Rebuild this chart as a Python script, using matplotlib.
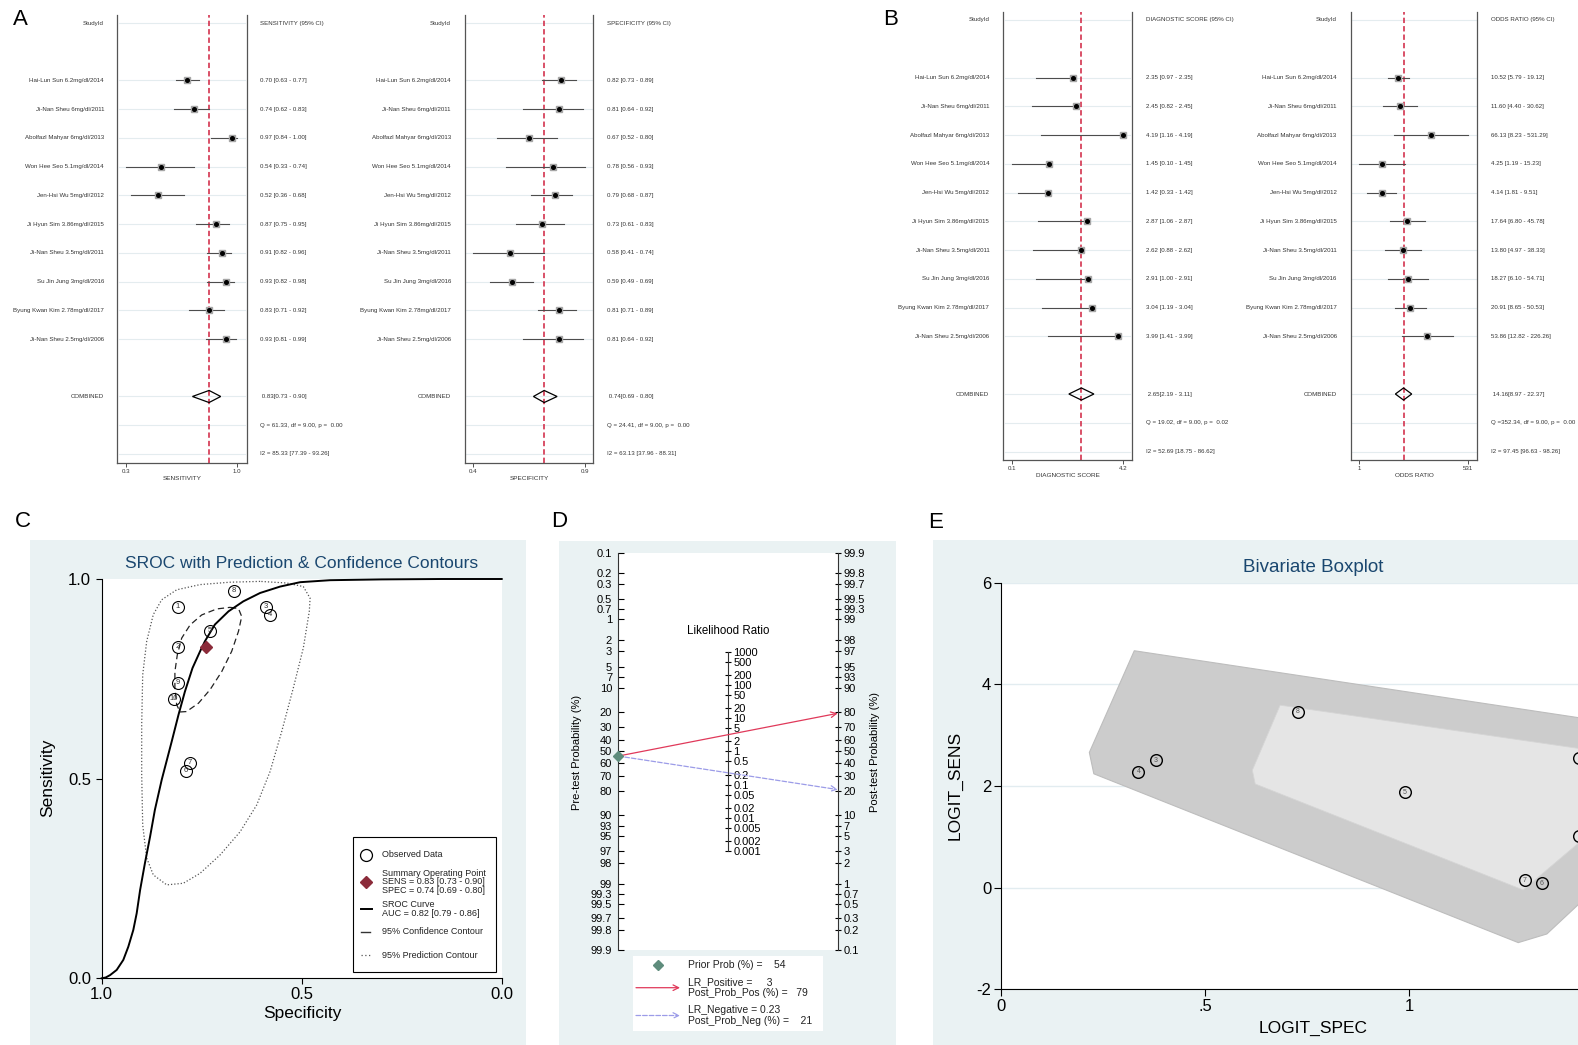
import numpy as np
import matplotlib
matplotlib.use("Agg")
import matplotlib.pyplot as plt
from matplotlib.patches import Rectangle, Polygon
from matplotlib.transforms import blended_transform_factory

plt.rcParams['font.family'] = ['Liberation Sans', 'DejaVu Sans']
plt.rcParams['axes.unicode_minus'] = False

W, H = 1578, 1045

# ---------------- study level data (forest plots) ----------------
studies = ['Hai-Lun Sun 6.2mg/dl/2014', 'Ji-Nan Sheu 6mg/dl/2011', 'Abolfazl Mahyar 6mg/dl/2013',
           'Won Hee Seo 5.1mg/dl/2014', 'Jen-Hsi Wu 5mg/dl/2012', 'Ji Hyun Sim 3.86mg/dl/2015',
           'Ji-Nan Sheu 3.5mg/dl/2011', 'Su Jin Jung 3mg/dl/2016', 'Byung Kwan Kim 2.78mg/dl/2017',
           'Ji-Nan Sheu 2.5mg/dl/2006']

sens = [0.70, 0.74, 0.97, 0.54, 0.52, 0.87, 0.91, 0.93, 0.83, 0.93]
sens_lo = [0.63, 0.62, 0.84, 0.33, 0.36, 0.75, 0.82, 0.82, 0.71, 0.81]
sens_hi = [0.77, 0.83, 1.00, 0.74, 0.68, 0.95, 0.96, 0.98, 0.92, 0.99]
sens_comb = [0.83, 0.73, 0.90]
sens_het = [61.33, 9.00, 0.00, 85.33, 77.39, 93.26]

spec = [0.82, 0.81, 0.67, 0.78, 0.79, 0.73, 0.58, 0.59, 0.81, 0.81]
spec_lo = [0.73, 0.64, 0.52, 0.56, 0.68, 0.61, 0.41, 0.49, 0.71, 0.64]
spec_hi = [0.89, 0.92, 0.80, 0.93, 0.87, 0.83, 0.74, 0.69, 0.89, 0.92]
spec_comb = [0.74, 0.69, 0.80]
spec_het = [24.41, 9.00, 0.00, 63.13, 37.96, 88.31]

dscore = [2.35, 2.45, 4.19, 1.45, 1.42, 2.87, 2.62, 2.91, 3.04, 3.99]
dscore_lo = [0.97, 0.82, 1.16, 0.10, 0.33, 1.06, 0.88, 1.00, 1.19, 1.41]
dscore_hi = [2.35, 2.45, 4.19, 1.45, 1.42, 2.87, 2.62, 2.91, 3.04, 3.99]
dscore_comb = [2.65, 2.19, 3.11]
dscore_het = [19.02, 9.00, 0.02, 52.69, 18.75, 86.62]

odds = [10.52, 11.60, 66.13, 4.25, 4.14, 17.64, 13.80, 18.27, 20.91, 53.86]
odds_lo = [5.79, 4.40, 8.23, 1.19, 1.81, 6.80, 4.97, 6.10, 8.65, 12.82]
odds_hi = [19.12, 30.62, 531.29, 15.23, 9.51, 45.78, 38.33, 54.71, 50.53, 226.26]
odds_comb = [14.16, 8.97, 22.37]
odds_het = [352.34, 9.00, 0.00, 97.45, 96.63, 98.26]

# ---------------- SROC (panel C) ----------------
auc = [0.82, 0.79, 0.86]
curve_spec = [1.0, 0.990, 0.979, 0.9625, 0.946, 0.9335, 0.921, 0.9125, 0.904, 0.892, 0.879, 0.867,
              0.850, 0.825, 0.808, 0.792, 0.773, 0.754, 0.742, 0.717, 0.683, 0.646, 0.604, 0.554,
              0.504, 0.429, 0.30, 0.15, 0.0]
curve_sens = [0.0, 0.002, 0.008, 0.021, 0.046, 0.079, 0.121, 0.163, 0.221, 0.288, 0.355, 0.422,
              0.497, 0.593, 0.660, 0.718, 0.777, 0.819, 0.844, 0.886, 0.919, 0.944, 0.965, 0.981,
              0.992, 0.997, 0.999, 1.0, 1.0]
conf_spec = [0.679, 0.658, 0.650, 0.658, 0.675, 0.700, 0.729, 0.758, 0.788, 0.804, 0.8125, 0.817,
             0.817, 0.811, 0.800, 0.779, 0.750, 0.7125, 0.679]
conf_sens = [0.929, 0.926, 0.906, 0.869, 0.819, 0.768, 0.723, 0.689, 0.668, 0.667, 0.685, 0.727,
             0.768, 0.810, 0.852, 0.885, 0.910, 0.925, 0.929]
pred_spec = [0.604, 0.679, 0.754, 0.8125, 0.850, 0.871, 0.8875, 0.8975, 0.900, 0.900, 0.8975, 0.8875,
             0.871, 0.8375, 0.796, 0.754, 0.704, 0.654, 0.6125, 0.579, 0.550, 0.521, 0.496, 0.481,
             0.479, 0.496, 0.5375, 0.604]
pred_sens = [0.994, 0.992, 0.986, 0.973, 0.948, 0.911, 0.844, 0.760, 0.635, 0.510, 0.384, 0.301,
             0.259, 0.234, 0.238, 0.263, 0.309, 0.367, 0.434, 0.518, 0.618, 0.727, 0.827, 0.919,
             0.952, 0.981, 0.990, 0.994]

# ---------------- Fagan nomogram (panel D) ----------------
prior_prob = 54
lr_pos, post_pos = 3, 79
lr_neg, post_neg = 0.23, 21
prob_ticks = [0.1, 0.2, 0.3, 0.5, 0.7, 1, 2, 3, 5, 7, 10, 20, 30, 40, 50, 60, 70, 80, 90, 93, 95,
              97, 98, 99, 99.3, 99.5, 99.7, 99.8, 99.9]
lr_ticks = [1000, 500, 200, 100, 50, 20, 10, 5, 2, 1, 0.5, 0.2, 0.1, 0.05, 0.02, 0.01, 0.005, 0.002, 0.001]

# ---------------- bivariate boxplot (panel E) ----------------
box_x = [0.337, 0.380, 0.727, 0.990, 1.283, 1.324, 1.415, 1.415]
box_y = [2.28, 2.51, 3.46, 1.88, 0.15, 0.09, 2.56, 1.02]
box_lab = ['4', '3', '8', '5', '7', '6', '', '']   # last two sit on the cut edge
outer_x = [0.327, 0.217, 0.228, 1.267, 1.337, 1.55, 1.55]
outer_y = [4.66, 2.66, 2.24, -1.08, -0.91, 0.69, 3.18]
inner_x = [0.684, 0.616, 0.623, 1.279, 1.50, 1.50]
inner_y = [3.59, 2.31, 2.04, -0.045, 1.46, 2.64]

BG = '#EAF2F3'
NAVY = '#1A476F'

fig = plt.figure(figsize=(W / 100, H / 100), dpi=100)


def px_axes(x0, y0, x1, y1, **kw):
    return fig.add_axes([x0 / W, 1 - y1 / H, (x1 - x0) / W, (y1 - y0) / H], **kw)


bg = px_axes(0, 0, W, H, zorder=0)
bg.set_xlim(0, W)
bg.set_ylim(H, 0)
bg.axis('off')
for x0, y0, x1, y1 in [(29.7, 540, 525.5, 1045), (559, 541, 896, 1045), (933.4, 540, 1578, 1045)]:
    bg.add_patch(Rectangle((x0, y0), x1 - x0, y1 - y0, color=BG, lw=0))


def forest(box, row0, pitch, label_x, text_x, header, xlab, est, lo, hi, comb, het, xlim,
           log=False, fmt='{:.1f}'):
    x0, y0, x1, y1 = box
    ax = px_axes(*box, zorder=2)
    n = len(est)
    rows = np.arange(n) + 2
    r_comb, r_q, r_i2 = n + 3, n + 4, n + 5
    ax.set_ylim(r_i2 + (y1 - row0 - r_i2 * pitch) / pitch, -(row0 - y0) / pitch)
    if log:
        ax.set_xscale('log')
    ax.set_xlim(*xlim)
    for r in [0, *rows, r_comb, r_q, r_i2]:
        ax.axhline(r, xmin=0.01, xmax=0.99, color='#E4ECEF', lw=0.8, zorder=0)
    ax.axvline(comb[0], color='#D0213F', lw=1.1, ls=(0, (3.5, 2)), zorder=1)
    for r, e, l, h in zip(rows, est, lo, hi):
        ax.plot([l, h], [r, r], color='#4d4d4d', lw=0.8, zorder=2)
        ax.plot(e, r, 's', ms=5, color='#a6a6a6', zorder=3)
        ax.plot(e, r, 'o', ms=2.6, color='black', zorder=4)
    ce, cl, ch = comb
    ax.add_patch(Polygon([(cl, r_comb), (ce, r_comb - 0.21), (ch, r_comb), (ce, r_comb + 0.21)],
                         closed=True, fill=False, ec='black', lw=0.9, zorder=4))
    tr = blended_transform_factory(ax.transAxes, ax.transData)
    lx = (label_x - x0) / (x1 - x0)
    tx = (text_x - x0) / (x1 - x0)
    kw = dict(transform=tr, fontsize=4.4, va='center', color='#333333', clip_on=False)
    ax.text(lx, 0, 'StudyId', ha='right', **kw)
    ax.text(tx, 0, header, ha='left', **kw)
    for r, s, e, l, h in zip(rows, studies, est, lo, hi):
        ax.text(lx, r, s, ha='right', **kw)
        ax.text(tx, r, f'{e:.2f} [{l:.2f} - {h:.2f}]', ha='left', **kw)
    ax.text(lx, r_comb, 'COMBINED', ha='right', **kw)
    ax.text(tx, r_comb, f' {ce:.2f}[{cl:.2f} - {ch:.2f}]', ha='left', **kw)
    q, df, p, i2, i2l, i2h = het
    ax.text(tx, r_q, f'Q ={q:6.2f}, df = {df:.2f}, p = {p:5.2f}', ha='left', **kw)
    ax.text(tx, r_i2, f'I2 = {i2:.2f} [{i2l:.2f} - {i2h:.2f}]', ha='left', **kw)
    ticks = [min(lo), max(hi)]
    ax.set_xticks(ticks)
    ax.set_xticklabels([fmt.format(t) for t in ticks])
    ax.minorticks_off()
    ax.set_yticks([])
    ax.tick_params(axis='x', length=3, width=0.6, labelsize=4.4, pad=1.5, colors='#333333')
    ax.set_xlabel(xlab, fontsize=4.6, labelpad=1.5, color='#333333')
    ax.spines['top'].set_visible(False)
    for s in ['left', 'right', 'bottom']:
        ax.spines[s].set_color('#555555')
        ax.spines[s].set_linewidth(0.9)
    return ax


forest((117.3, 15, 246.7, 462.7), 23, 28.73, 104, 260, 'SENSITIVITY (95% CI)', 'SENSITIVITY',
       sens, sens_lo, sens_hi, sens_comb, sens_het, (0.2776, 1.0566))
forest((464.7, 15, 593.3, 462.7), 23, 28.73, 451, 607, 'SPECIFICITY (95% CI)', 'SPECIFICITY',
       spec, spec_lo, spec_hi, spec_comb, spec_het, (0.370, 0.9686))
forest((1003.3, 11.7, 1131.7, 460), 20, 28.77, 989.3, 1146, 'DIAGNOSTIC SCORE (95% CI)',
       'DIAGNOSTIC SCORE', dscore, dscore_lo, dscore_hi, dscore_comb, dscore_het, (-0.2197, 4.499))
forest((1350.7, 11.7, 1477.3, 460), 20, 28.77, 1336.7, 1491, 'ODDS RATIO (95% CI)', 'ODDS RATIO',
       odds, odds_lo, odds_hi, odds_comb, odds_het, (0.736, 879), log=True, fmt='{:.0f}')

# ---------------- panel C: SROC ----------------
axC = px_axes(101.7, 579, 501.7, 978.3, zorder=2)
axC.set_xlim(1, 0)
axC.set_ylim(0, 1)
axC.plot(pred_spec, pred_sens, color='#555555', lw=0.9, ls=(0, (1, 1.6)))
axC.plot(conf_spec, conf_sens, color='#222222', lw=0.9, ls=(0, (5, 3)))
axC.plot(curve_spec, curve_sens, color='black', lw=1.4, clip_on=False, solid_joinstyle='round')
n = len(sens)
axC.plot(spec, sens, 'o', ms=8.6, mfc='none', mec='black', mew=0.8)
for i, (x, y) in enumerate(zip(spec, sens)):
    axC.text(x, y, str(n - i), fontsize=5.5, ha='center', va='center', color='#333333')
axC.plot(spec_comb[0], sens_comb[0], 'D', ms=6.5, color='#8B2B3A', zorder=5)
axC.set_xticks([1, 0.5, 0])
axC.set_xticklabels(['1.0', '0.5', '0.0'])
axC.set_yticks([0, 0.5, 1])
axC.set_yticklabels(['0.0', '0.5', '1.0'])
axC.tick_params(length=4.6, width=0.8, labelsize=12)
axC.tick_params(axis='x', pad=2)
axC.tick_params(axis='y', pad=3)
for s in ['top', 'right']:
    axC.spines[s].set_visible(False)

# ---------------- panel D: Fagan nomogram ----------------
def logit(p):
    p = np.asarray(p, dtype=float)
    return np.log(p / (1 - p))


lim = float(logit(0.999))
axD = px_axes(618.3, 552.8, 837.7, 950.1, zorder=2)
axD.set_xlim(0, 1)
axD.set_ylim(lim, -lim)
axD.set_xticks([])
tick_txt = ['{:g}'.format(t) for t in prob_ticks]
axD.set_yticks(logit(np.array(prob_ticks) / 100))
axD.set_yticklabels(tick_txt)
axD.tick_params(axis='y', direction='in', length=4, width=0.8, pad=4.5, labelsize=8)
for s in ['top', 'right', 'bottom']:
    axD.spines[s].set_visible(False)

axR = axD.twinx()
axR.set_ylim(lim, -lim)
axR.set_yticks(-logit(np.array(prob_ticks) / 100))
axR.set_yticklabels(tick_txt)
axR.tick_params(axis='y', direction='inout', length=5, width=0.8, pad=1.5, labelsize=8)
for s in ['top', 'left', 'bottom']:
    axR.spines[s].set_visible(False)

axM = axD.twinx()
axM.set_ylim(lim, -lim)
lr_u = -np.log(np.array(lr_ticks, dtype=float)) / 2
axM.spines['right'].set_position(('axes', 0.5))
axM.spines['right'].set_bounds(lr_u.min(), lr_u.max())
axM.set_yticks(lr_u)
axM.set_yticklabels(['{:g}'.format(t) for t in lr_ticks])
axM.tick_params(axis='y', direction='inout', length=5, width=0.8, pad=1.5, labelsize=8)
for s in ['top', 'left', 'bottom']:
    axM.spines[s].set_visible(False)
for a in (axD, axR, axM):
    for s in a.spines.values():
        s.set_color('#333333')

uL = float(logit(prior_prob / 100))
axM.annotate('', xy=(1, -float(logit(post_pos / 100))), xytext=(0, uL),
             arrowprops=dict(arrowstyle='->', color='#E0395A', lw=0.9, shrinkA=0, shrinkB=0))
axM.annotate('', xy=(1, -float(logit(post_neg / 100))), xytext=(0, uL),
             arrowprops=dict(arrowstyle='->', color='#9C9CE8', lw=0.9, ls='--', shrinkA=0, shrinkB=0))
axM.plot(0, uL, 'D', ms=5, color='#5E8C7C', clip_on=False, zorder=6)

# ---------------- panel E: bivariate boxplot ----------------
axE = px_axes(1000.7, 582.6, 1000.7 + 1.52 * 408.5, 989.4, zorder=2)
axE.set_xlim(0, 1.52)
axE.set_ylim(-2, 6)
axE.set_yticks([-2, 0, 2, 4, 6])
axE.set_xticks([0, 0.5, 1])
axE.set_xticklabels(['0', '.5', '1'])
axE.grid(axis='y', color='#E2ECF0', lw=1.0)
axE.set_axisbelow(True)
axE.add_patch(Polygon(list(zip(outer_x, outer_y)), closed=True, fc='#CCCCCC', ec='#BDBDBD', lw=0.8, zorder=1))
axE.add_patch(Polygon(list(zip(inner_x, inner_y)), closed=True, fc='#E5E5E5', ec='#D5D5D5', lw=0.6, zorder=2))
axE.plot(box_x, box_y, 'o', ms=8.4, mfc='none', mec='black', mew=1.0, zorder=3)
for x, y, t in zip(box_x, box_y, box_lab):
    if t:
        axE.text(x, y, t, fontsize=5, ha='center', va='center', color='#555555', zorder=4)
axE.tick_params(length=4.8, width=0.8, labelsize=12, pad=2)
for s in ['top', 'right']:
    axE.spines[s].set_visible(False)

# ---------------- texts and legends ----------------
deco = px_axes(0, 0, W, H, zorder=5)
deco.set_xlim(0, W)
deco.set_ylim(H, 0)
deco.axis('off')

for letter, x, y in [('A', 20.8, 19.5), ('B', 890.3, 19.5), ('C', 23.2, 521.7),
                     ('D', 559.2, 521.7), ('E', 935.5, 522.5)]:
    deco.text(x, y, letter, fontsize=16, ha='center', va='center')

deco.text(302, 563.3, 'SROC with Prediction & Confidence Contours', fontsize=12.5, color=NAVY,
          ha='center', va='center')
deco.text(47.3, 778, 'Sensitivity', fontsize=12.5, rotation=90, ha='center', va='center')
deco.text(302, 1013.7, 'Specificity', fontsize=12.5, ha='center', va='center')

# SROC legend
deco.add_patch(Rectangle((352.6, 837.2), 143.4, 134.5, fc='white', ec='black', lw=0.8))
lkw = dict(fontsize=6.5, va='center', color='#222222')
deco.plot(365.8, 854.5, 'o', ms=8.6, mfc='none', mec='black', mew=0.9)
deco.text(382, 854.5, 'Observed Data', **lkw)
deco.plot(365.8, 881.6, 'D', ms=6.5, color='#8B2B3A')
deco.text(382, 873, 'Summary Operating Point', **lkw)
deco.text(382, 881.8, 'SENS = {:.2f} [{:.2f} - {:.2f}]'.format(*sens_comb), **lkw)
deco.text(382, 890.7, 'SPEC = {:.2f} [{:.2f} - {:.2f}]'.format(*spec_comb), **lkw)
deco.plot([361, 372], [909.4, 909.4], color='black', lw=1.4)
deco.text(382, 904.2, 'SROC Curve', **lkw)
deco.text(382, 913.6, 'AUC = {:.2f} [{:.2f} - {:.2f}]'.format(*auc), **lkw)
deco.plot([361, 370], [932, 932], color='#333333', lw=1.0)
deco.text(382, 932, '95% Confidence Contour', **lkw)
deco.plot([361, 372], [955, 955], color='#555555', lw=0.9, ls=(0, (1, 2)))
deco.text(382, 955, '95% Prediction Contour', **lkw)

# Fagan texts
deco.text(727.7, 630.7, 'Likelihood Ratio', fontsize=8.3, ha='center', va='center')
deco.text(577.3, 752, 'Pre-test Probability (%)', fontsize=8, rotation=90, ha='center', va='center')
deco.text(875, 752, 'Post-test Probability (%)', fontsize=8, rotation=90, ha='center', va='center')
deco.add_patch(Rectangle((632.7, 956.4), 190.6, 74.4, fc='white', ec='none'))
fkw = dict(fontsize=7.5, va='center', color='#222222')
deco.plot(658.3, 965, 'D', ms=5, color='#5E8C7C')
deco.text(687.7, 965, f'Prior Prob (%) =    {prior_prob}', **fkw)
deco.annotate('', xy=(680, 987.7), xytext=(636, 987.7),
              arrowprops=dict(arrowstyle='->', color='#E0395A', lw=0.9, shrinkA=0, shrinkB=0))
deco.text(687.7, 982.4, f'LR_Positive =     {lr_pos}', **fkw)
deco.text(687.7, 992.9, f'Post_Prob_Pos (%) =   {post_pos}', **fkw)
deco.annotate('', xy=(680, 1015.5), xytext=(636, 1015.5),
              arrowprops=dict(arrowstyle='->', color='#9C9CE8', lw=0.9, ls='--', shrinkA=0, shrinkB=0))
deco.text(687.7, 1010, f'LR_Negative = {lr_neg}', **fkw)
deco.text(687.7, 1020.7, f'Post_Prob_Neg (%) =    {post_neg}', **fkw)

# Bivariate boxplot texts
deco.text(1312.8, 567.8, 'Bivariate Boxplot', fontsize=13.5, color=NAVY, ha='center', va='center')
deco.text(954.8, 785, 'LOGIT_SENS', fontsize=12.5, rotation=90, ha='center', va='center')
deco.text(1312.8, 1028.3, 'LOGIT_SPEC', fontsize=12.5, ha='center', va='center')

fig.savefig('out.png', dpi=100)
